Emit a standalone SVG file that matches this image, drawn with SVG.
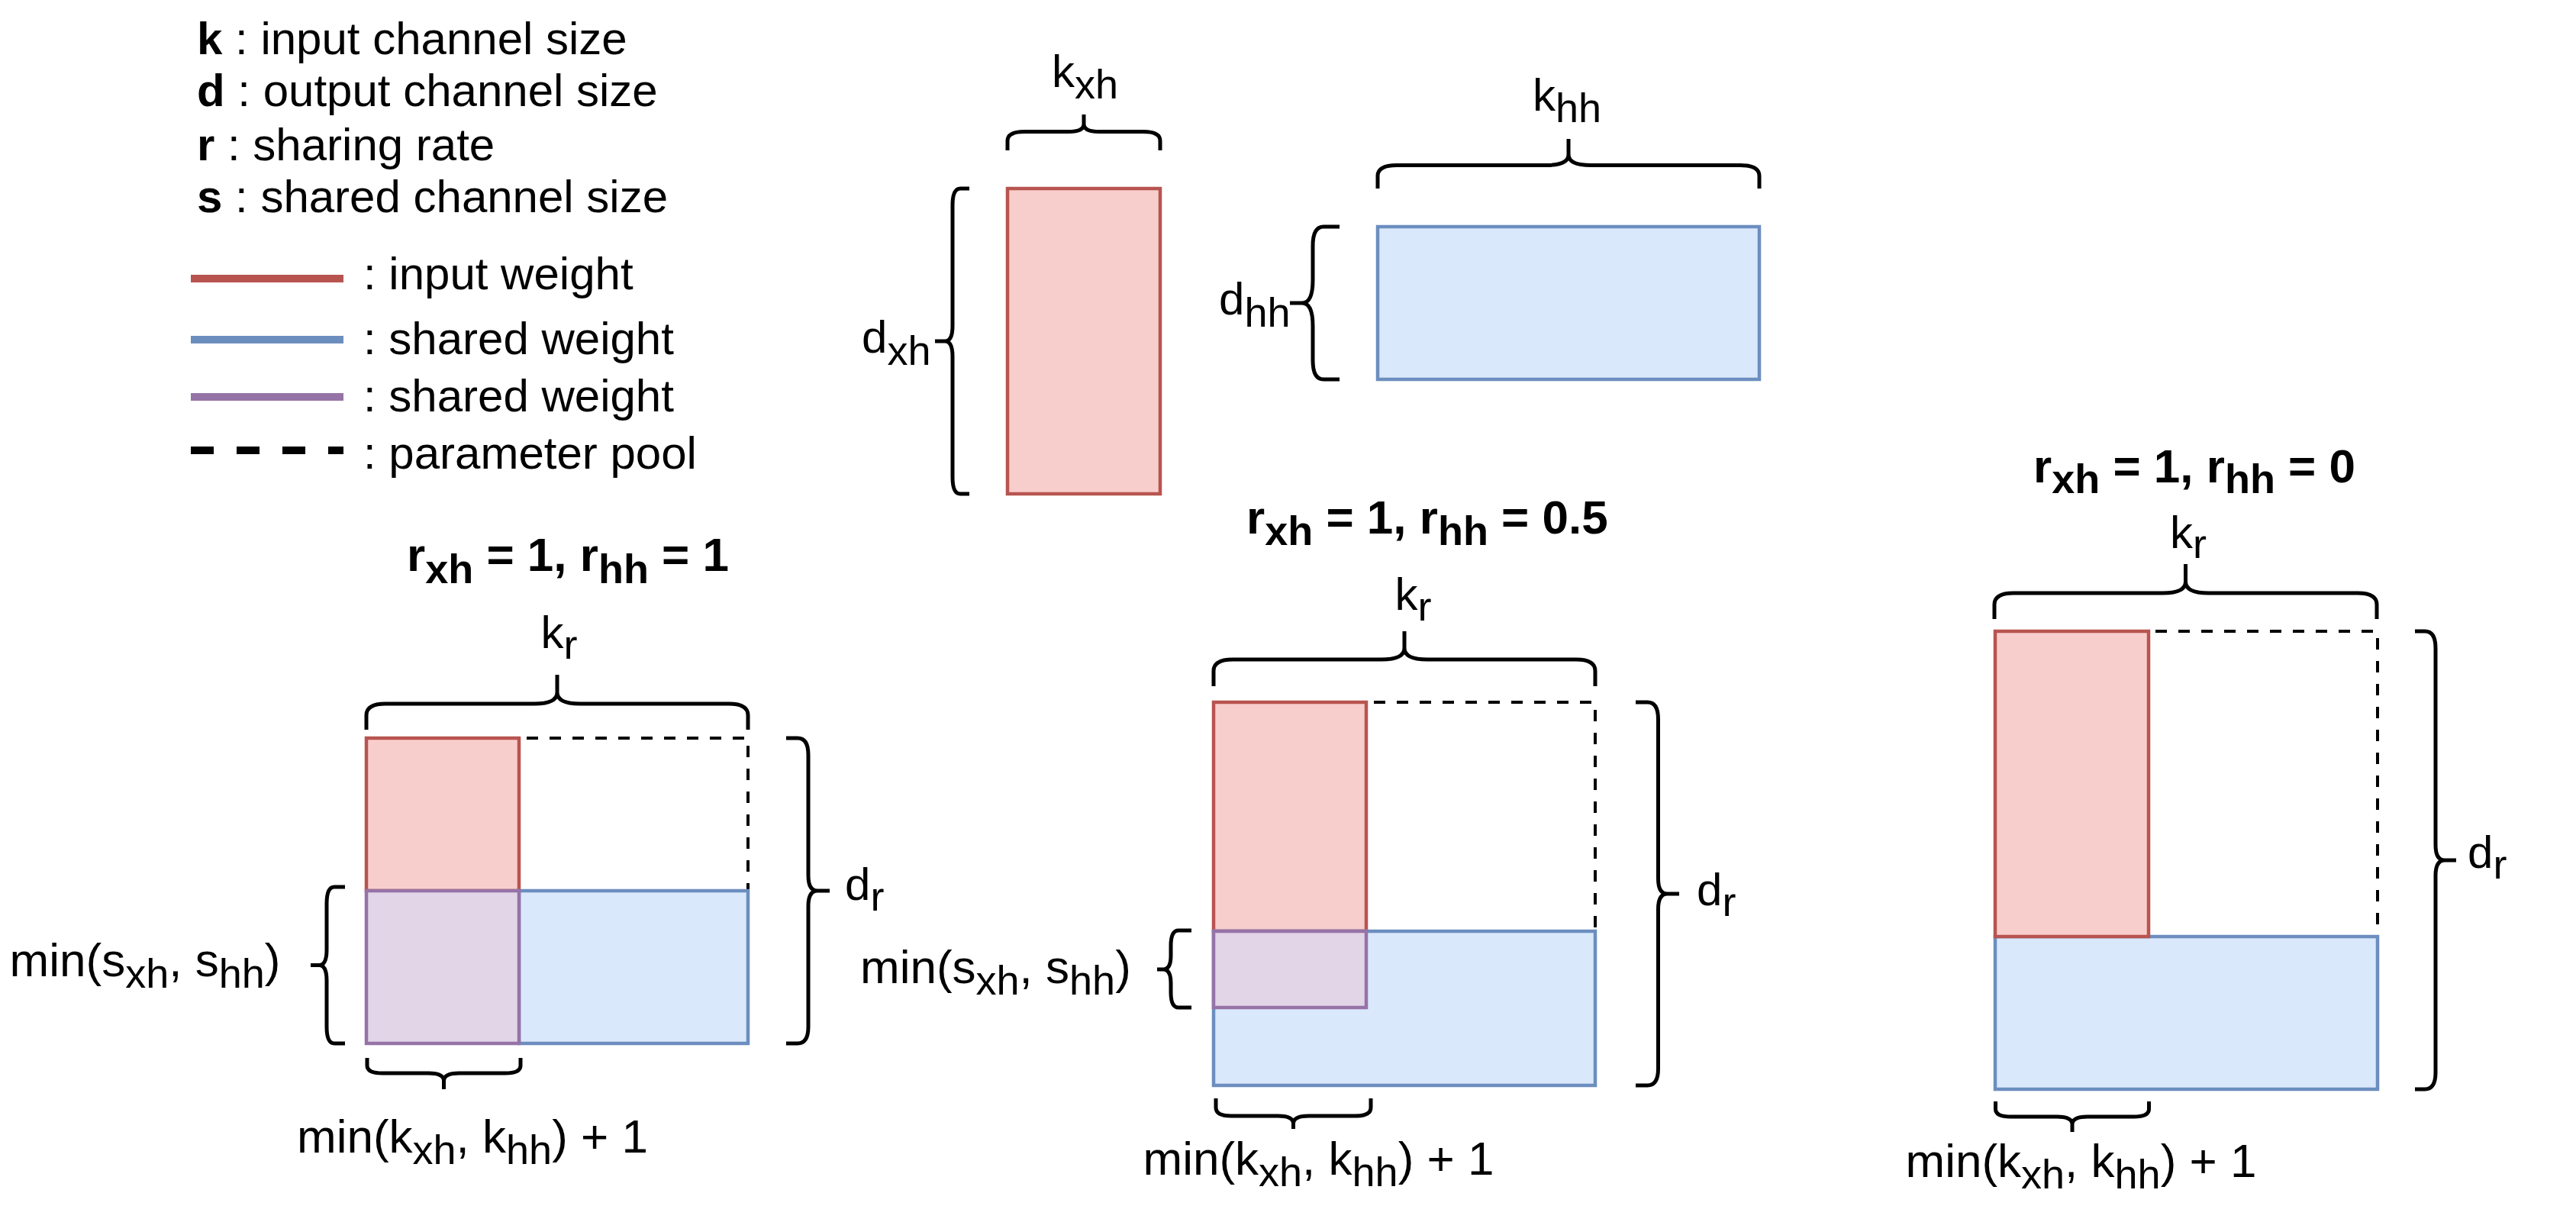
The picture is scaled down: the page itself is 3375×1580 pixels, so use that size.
<svg xmlns="http://www.w3.org/2000/svg" width="3375" height="1580" viewBox="0 0 3375 1580">
<style>
.t{font-family:"Liberation Sans",Arial,Helvetica,sans-serif;font-size:60px;fill:#000}
.tb{font-weight:bold;font-size:62px}
.tm{font-size:62px}
.s{font-size:54px}
.sm{font-size:54px}
.brace{fill:none;stroke:#000;stroke-width:5;stroke-linejoin:round}
.red{fill:#f8cecc;stroke:#b85450;stroke-width:4.5}
.blue{fill:#dae8fc;stroke:#6c8ebf;stroke-width:4.5}
.purple{fill:#e1d5e7;stroke:#9673a6;stroke-width:4.5}
.pool{fill:none;stroke:#000;stroke-width:4;stroke-dasharray:15 15}
</style>
<rect width="3375" height="1580" fill="#fff"/>

<g id="legend">
  <text class="t" x="258" y="70.5"><tspan font-weight="bold">k</tspan> : input channel size</text>
  <text class="t" x="258" y="139"><tspan font-weight="bold">d</tspan> : output channel size</text>
  <text class="t" x="258" y="209.5"><tspan font-weight="bold">r</tspan> : sharing rate</text>
  <text class="t" x="258" y="278"><tspan font-weight="bold">s</tspan> : shared channel size</text>
  <line x1="250" y1="365" x2="450" y2="365" stroke="#b85450" stroke-width="10"/>
  <line x1="250" y1="445" x2="450" y2="445" stroke="#6c8ebf" stroke-width="10"/>
  <line x1="250" y1="520" x2="450" y2="520" stroke="#9673a6" stroke-width="10"/>
  <line x1="250" y1="590" x2="450" y2="590" stroke="#000" stroke-width="10" stroke-dasharray="30 30"/>
  <text class="t" x="476" y="379">: input weight</text>
  <text class="t" x="476" y="464">: shared weight</text>
  <text class="t" x="476" y="539">: shared weight</text>
  <text class="t" x="476" y="614">: parameter pool</text>
</g>

<g id="w-xh">
  <rect class="red" x="1320" y="247" width="200" height="400"/>
  <text class="t" x="1378" y="114">k<tspan class="s" dy="15">xh</tspan></text>
  <text class="t" x="1129" y="462">d<tspan class="s" dy="16">xh</tspan></text>
</g>

<g id="w-hh">
  <rect class="blue" x="1805" y="297" width="500" height="200"/>
  <text class="t" x="2008" y="145">k<tspan class="s" dy="15">hh</tspan></text>
  <text class="t" x="1597" y="412">d<tspan class="s" dy="16">hh</tspan></text>
</g>

<g id="case-left">
  <text class="t tb" x="533" y="748">r<tspan class="sm" dy="16">xh</tspan><tspan dy="-16"> = 1, r</tspan><tspan class="sm" dy="16">hh</tspan><tspan dy="-16"> = 1</tspan></text>
  <text class="t" x="708.5" y="849">k<tspan class="s" dy="14">r</tspan></text>
  <rect class="pool" x="480" y="967" width="500" height="400"/>
  <rect class="red" x="480" y="967" width="200" height="200"/>
  <rect class="blue" x="680" y="1167" width="300" height="200"/>
  <rect class="purple" x="480" y="1167" width="200" height="200"/>
  <text class="t tm" x="12.6" y="1279">min(s<tspan class="sm" dy="15">xh</tspan><tspan dy="-15">, s</tspan><tspan class="sm" dy="15">hh</tspan><tspan dy="-15">)</tspan></text>
  <text class="t" x="1107" y="1178.5">d<tspan class="s" dy="14">r</tspan></text>
  <text class="t tm" x="389" y="1510">min(k<tspan class="sm" dy="15">xh</tspan><tspan dy="-15">, k</tspan><tspan class="sm" dy="15">hh</tspan><tspan dy="-15">) + 1</tspan></text>
</g>

<g id="case-middle">
  <text class="t tb" x="1633" y="699">r<tspan class="sm" dy="15">xh</tspan><tspan dy="-15"> = 1, r</tspan><tspan class="sm" dy="15">hh</tspan><tspan dy="-15"> = 0.5</tspan></text>
  <text class="t" x="1827.5" y="799">k<tspan class="s" dy="14">r</tspan></text>
  <rect class="pool" x="1590" y="920" width="500" height="500"/>
  <rect class="red" x="1590" y="920" width="200" height="300"/>
  <rect class="blue" x="1590" y="1220" width="500" height="202"/>
  <rect class="purple" x="1590" y="1220" width="200" height="100"/>
  <text class="t tm" x="1127" y="1288">min(s<tspan class="sm" dy="15">xh</tspan><tspan dy="-15">, s</tspan><tspan class="sm" dy="15">hh</tspan><tspan dy="-15">)</tspan></text>
  <text class="t" x="2223" y="1185.5">d<tspan class="s" dy="14">r</tspan></text>
  <text class="t tm" x="1497.5" y="1538.5">min(k<tspan class="sm" dy="15">xh</tspan><tspan dy="-15">, k</tspan><tspan class="sm" dy="15">hh</tspan><tspan dy="-15">) + 1</tspan></text>
</g>

<g id="case-right">
  <text class="t tb" x="2664" y="632">r<tspan class="sm" dy="14">xh</tspan><tspan dy="-14"> = 1, r</tspan><tspan class="sm" dy="14">hh</tspan><tspan dy="-14"> = 0</tspan></text>
  <text class="t" x="2843" y="717.5">k<tspan class="s" dy="13.5">r</tspan></text>
  <rect class="pool" x="2614" y="827" width="501" height="600"/>
  <rect class="blue" x="2614" y="1227" width="501" height="200"/>
  <rect class="red" x="2614" y="827" width="201" height="400"/>
  <text class="t" x="3233" y="1136.5">d<tspan class="s" dy="14.5">r</tspan></text>
  <text class="t tm" x="2496.5" y="1542">min(k<tspan class="sm" dy="15">xh</tspan><tspan dy="-15">, k</tspan><tspan class="sm" dy="15">hh</tspan><tspan dy="-15">) + 1</tspan></text>
</g>

<g id="braces">
  <path class="brace" d="M1320,197 L1320,184.5 Q1320,172.5 1342,172.5 L1400,172.5 Q1420,172.5 1420,162.5 L1420,150 M1420,162.5 Q1420,172.5 1440,172.5 L1498,172.5 Q1520,172.5 1520,184.5 L1520,197"/>
  <path class="brace" d="M1805,247 L1805,230.5 Q1805,216.5 1830,216.5 L2025,216.5 Q2055,216.5 2055,202.5 L2055,182 M2055,202.5 Q2055,216.5 2085,216.5 L2280,216.5 Q2305,216.5 2305,230.5 L2305,247"/>
  <path class="brace" d="M480,956 L480,937 Q480,922 505,922 L700,922 Q730,922 730,907 L730,884 M730,907 Q730,922 760,922 L955,922 Q980,922 980,937 L980,956"/>
  <path class="brace" d="M1590,899 L1590,879 Q1590,864 1615,864 L1810,864 Q1840,864 1840,849 L1840,827 M1840,849 Q1840,864 1870,864 L2065,864 Q2090,864 2090,879 L2090,899"/>
  <path class="brace" d="M2613,811 L2613,792 Q2613,777 2638,777 L2833.5,777 Q2863.5,777 2863.5,762 L2863.5,739 M2863.5,762 Q2863.5,777 2893.5,777 L3089,777 Q3114,777 3114,792 L3114,811"/>
  <path class="brace" d="M481,1386 L481,1396 Q481,1406 501,1406 L561.5,1406 Q581.5,1406 581.5,1416 L581.5,1427 M581.5,1416 Q581.5,1406 601.5,1406 L662,1406 Q682,1406 682,1396 L682,1386"/>
  <path class="brace" d="M1593,1439 L1593,1451 Q1593,1462 1613,1462 L1674.5,1462 Q1694.5,1462 1694.5,1472 L1694.5,1479 M1694.5,1472 Q1694.5,1462 1714.5,1462 L1776,1462 Q1796,1462 1796,1451 L1796,1439"/>
  <path class="brace" d="M2614.5,1443 L2614.5,1453 Q2614.5,1463 2634.5,1463 L2695,1463 Q2715,1463 2715,1473 L2715,1483 M2715,1473 Q2715,1463 2735,1463 L2795.5,1463 Q2815.5,1463 2815.5,1453 L2815.5,1443"/>
  <path class="brace" d="M1270,247 L1258,247 Q1248,247 1248,269 L1248,427 Q1248,447 1238,447 L1225,447 M1238,447 Q1248,447 1248,467 L1248,625 Q1248,647 1258,647 L1270,647"/>
  <path class="brace" d="M1755,297 L1734,297 Q1720,297 1720,322 L1720,367 Q1720,397 1706,397 L1690,397 M1706,397 Q1720,397 1720,427 L1720,472 Q1720,497 1734,497 L1755,497"/>
  <path class="brace" d="M452,1162 L438,1162 Q428,1162 428,1184 L428,1244.5 Q428,1264.5 418,1264.5 L407,1264.5 M418,1264.5 Q428,1264.5 428,1284.5 L428,1345 Q428,1367 438,1367 L452,1367"/>
  <path class="brace" d="M1561,1219 L1544,1219 Q1534,1219 1534,1239 L1534,1252 Q1534,1270 1524,1270 L1516,1270 M1524,1270 Q1534,1270 1534,1288 L1534,1300 Q1534,1320 1544,1320 L1561,1320"/>
  <path class="brace" d="M1030,967 L1045,967 Q1059,967 1059,989 L1059,1147 Q1059,1167 1071,1167 L1087,1167 M1071,1167 Q1059,1167 1059,1187 L1059,1345 Q1059,1367 1045,1367 L1030,1367"/>
  <path class="brace" d="M2143,920 L2158.5,920 Q2172.5,920 2172.5,942 L2172.5,1151 Q2172.5,1171 2184.5,1171 L2200,1171 M2184.5,1171 Q2172.5,1171 2172.5,1191 L2172.5,1400 Q2172.5,1422 2158.5,1422 L2143,1422"/>
  <path class="brace" d="M3164,827 L3177,827 Q3191,827 3191,849 L3191,1107 Q3191,1127 3203,1127 L3218,1127 M3203,1127 Q3191,1127 3191,1147 L3191,1405 Q3191,1427 3177,1427 L3164,1427"/>
</g>
</svg>
